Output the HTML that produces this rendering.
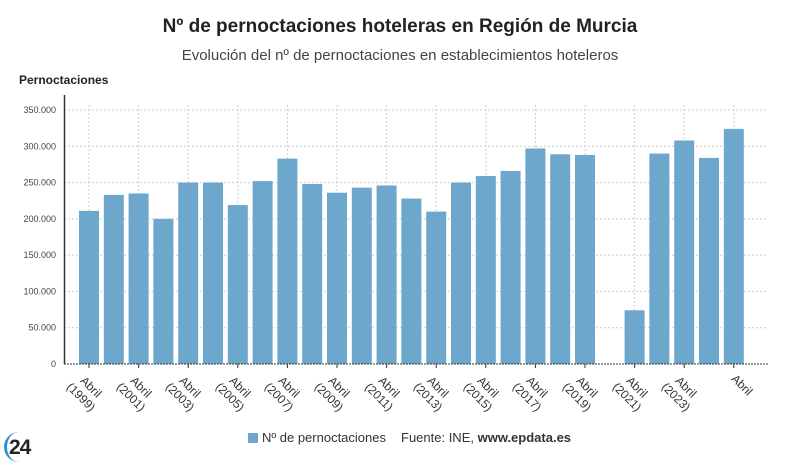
<!DOCTYPE html>
<html><head><meta charset="utf-8"><style>
body{margin:0;width:800px;height:470px;background:#fff;font-family:"Liberation Sans",sans-serif;position:relative;overflow:hidden}
.t{position:absolute;left:0;width:800px;text-align:center}
.lb{position:absolute;font-size:12px;line-height:14px;color:#333;text-align:center;white-space:nowrap;transform:translate(-50%,-50%) rotate(45deg)}
</style></head><body>
<div class="t" style="top:16px;font-size:19px;font-weight:bold;color:#222">Nº de pernoctaciones hoteleras en Región de Murcia</div>
<div class="t" style="top:47px;font-size:15px;color:#444">Evolución del nº de pernoctaciones en establecimientos hoteleros</div>
<div style="position:absolute;left:19px;top:73px;font-size:12px;font-weight:bold;color:#222">Pernoctaciones</div>
<svg width="800" height="470" style="position:absolute;left:0;top:0" id="s"></svg>
<div id="labels"></div>
<div style="position:absolute;left:248px;top:433px;width:10px;height:10px;background:#6ea7cc"></div>
<div style="position:absolute;left:262px;top:430px;font-size:13px;color:#333">Nº de pernoctaciones</div>
<div style="position:absolute;left:401px;top:430px;font-size:13px;color:#333">Fuente: INE, <b>www.epdata.es</b></div>
<div style="position:absolute;left:4px;top:432px;width:30px;height:30px;border-radius:50%;border-left:3px solid #2a8fd0;box-sizing:border-box"></div>
<div style="position:absolute;left:9px;top:436px;font-size:21px;font-weight:bold;color:#222;letter-spacing:-1px">24</div>
<script>
var s=document.getElementById('s'),h='';
var v=[211,233,235,200,250,250,219,252,283,248,236,243,246,228,210,250,259,266,297,289,288,0,74,290,308,284,324];
function Y(k){return 364-k*254/350;}
for(var k=0;k<=350;k+=50){var y=Y(k);
 if(k>0)h+='<line x1="64" x2="768" y1="'+y+'" y2="'+y+'" stroke="#ccc" stroke-dasharray="2,2"/>';
 h+='<text x="56" y="'+(y+3)+'" font-size="9" fill="#444" text-anchor="end" font-family="Liberation Sans">'+(k?k+'.000':'0')+'</text>';}
var L='';
for(var i=0;i<27;i++){var x=79+i*24.8,c=x+10;
 if(i%2==0){h+='<line x1="'+c+'" x2="'+c+'" y1="105" y2="364" stroke="#ccc" stroke-dasharray="2,2"/><line x1="'+c+'" x2="'+c+'" y1="364" y2="368" stroke="#333"/>';
  if(i<26)L+='<div class="lb" style="left:'+(c-3)+'px;top:392px">Abril<br>('+(1999+i)+')</div>';
  else L+='<div class="lb" style="left:'+(c+8)+'px;top:385px">Abril</div>';}
 if(v[i])h+='<rect x="'+x+'" y="'+Y(v[i])+'" width="20" height="'+(364-Y(v[i]))+'" fill="#6ea7cc"/>';}
h+='<line x1="64.5" x2="64.5" y1="95" y2="364" stroke="#333" stroke-width="1.5"/><line x1="64" x2="768" y1="364" y2="364" stroke="#333" stroke-dasharray="2,1"/>';
s.innerHTML=h;document.getElementById('labels').innerHTML=L;
</script>
</body></html>
